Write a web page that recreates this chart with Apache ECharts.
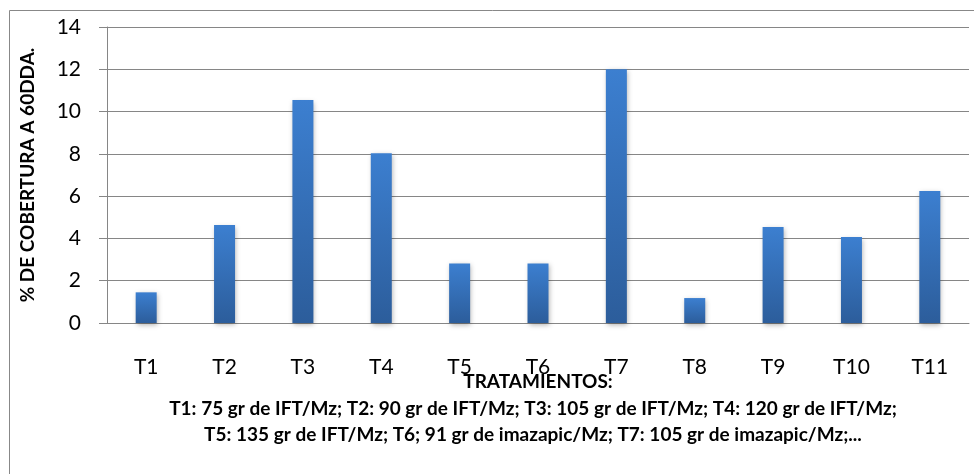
<!DOCTYPE html>
<html>
<head>
<meta charset="utf-8">
<script src="https://cdn.jsdelivr.net/npm/echarts@6/dist/echarts.min.js"></script>
<style>
  html, body { margin: 0; padding: 0; background: #fff; }
  #chart { width: 974px; height: 474px; }
</style>
</head>
<body>
<div id="chart"></div>
<script>
  // datos
  var categories = ['T1', 'T2', 'T3', 'T4', 'T5', 'T6', 'T7', 'T8', 'T9', 'T10', 'T11'];
  var cobertura = [1.45, 4.64, 10.55, 8.03, 2.82, 2.82, 12.0, 1.18, 4.54, 4.07, 6.24];
  var yTicks = [0, 2, 4, 6, 8, 10, 12, 14];
  var notas = [
    'T1: 75 gr de IFT/Mz; T2: 90 gr de IFT/Mz; T3: 105 gr de IFT/Mz; T4: 120 gr de IFT/Mz;',
    'T5: 135 gr de IFT/Mz; T6; 91 gr de imazapic/Mz; T7: 105 gr de imazapic/Mz;...'
  ];

  var font = 'Lato, "Open Sans", sans-serif';
  var chart = echarts.init(document.getElementById('chart'));

  chart.setOption({
    animation: false,
    textStyle: { fontFamily: font },
    grid: { left: 107, right: 5, top: 27, bottom: 151 },
    graphic: [
      {
        type: 'rect',
        shape: { x: 9.5, y: 10.5, width: 1000, height: 500 },
        style: { fill: 'none', stroke: '#888', lineWidth: 1 },
        silent: true
      },
      {
        type: 'text',
        x: 533,
        y: 396,
        style: {
          text: notas.join('\n'),
          font: 'bold 19px ' + font,
          fill: '#000',
          align: 'center',
          verticalAlign: 'top',
          lineHeight: 26
        }
      }
    ],
    xAxis: {
      type: 'category',
      data: categories,
      name: 'TRATAMIENTOS:',
      nameLocation: 'middle',
      nameGap: 49,
      nameMoveOverlap: false,
      nameTextStyle: { fontWeight: 'bold', fontSize: 19, color: '#000', fontFamily: font },
      axisLine: { lineStyle: { color: '#868686', width: 1 } },
      axisTick: { show: false },
      axisLabel: { fontSize: 21, color: '#000', margin: 34, fontFamily: font }
    },
    yAxis: {
      type: 'value',
      min: yTicks[0],
      max: yTicks[yTicks.length - 1],
      interval: 2,
      name: '% DE COBERTURA A 60DDA.',
      nameLocation: 'middle',
      nameGap: 70,
      nameTextStyle: { fontWeight: 'bold', fontSize: 19, color: '#000', fontFamily: font },
      axisLine: { show: true, lineStyle: { color: '#868686', width: 1 } },
      axisTick: { show: true, length: 8, lineStyle: { color: '#868686' } },
      splitLine: { lineStyle: { color: '#868686', width: 1 } },
      axisLabel: { fontSize: 21, color: '#000', margin: 26, fontFamily: font }
    },
    series: [{
      type: 'bar',
      data: cobertura,
      barWidth: 21,
      itemStyle: {
        color: new echarts.graphic.LinearGradient(0, 0, 0, 1, [
          { offset: 0, color: '#3c7fd0' },
          { offset: 1, color: '#2c5d9b' }
        ]),
        shadowBlur: 5,
        shadowColor: 'rgba(0,0,0,0.3)',
        shadowOffsetX: 1,
        shadowOffsetY: 2
      }
    }]
  });
</script>
</body>
</html>
